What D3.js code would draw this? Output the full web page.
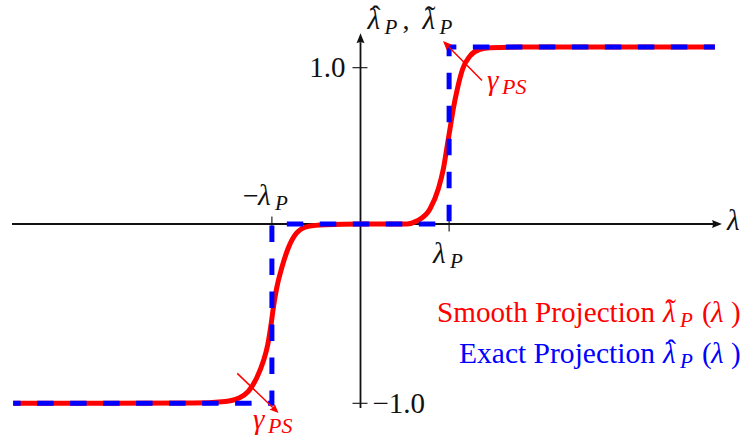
<!DOCTYPE html>
<html>
<head>
<meta charset="utf-8">
<script src="https://cdn.jsdelivr.net/npm/d3@7"></script>
<style>
  html, body { margin: 0; padding: 0; background: #fff; }
  svg { display: block; }
  svg text { font-family: "Liberation Serif", "DejaVu Serif", "Times New Roman", Times, serif; }
</style>
</head>
<body>
<svg id="chart" width="744" height="442"></svg>
<script>
const smoothLambda = [-3.92, -1.9, -1.529, -1.379, -1.266, -1.172, -1.097, -1.047, -1.010, -0.984, -0.946,
                      -0.889, -0.815, -0.720, -0.589, -0.401, 0, 0.525, 0.634, 0.784, 0.878,
                      0.935, 0.973, 1.010, 1.047, 1.093, 1.153, 1.236, 1.349, 1.462, 1.8, 4.0];
const smoothValue  = [-1.0, -0.999, -0.99, -0.972, -0.933, -0.859, -0.766, -0.673, -0.562, -0.468, -0.357,
                      -0.245, -0.134, -0.050, -0.013, -0.004, 0, 0, 0.019, 0.096, 0.224,
                      0.352, 0.480, 0.608, 0.736, 0.864, 0.992, 1.075, 1.118, 1.128, 1.132, 1.132];

// Exact (hard) projection: a step at +/- lambda_P
const exactLambda = [-3.92, -1, -1, 1, 1, 4.0];
const exactValue  = [-1.0, -1.0, 0, 0, 1.132, 1.132];

// Axis ticks
const lambdaTickValues = [-1, 1];
const valueTickValues = [1, -1];
const valueTickLabels = ["1.0", "\u22121.0"];

// Legend entries
const legendNames = ["Smooth Projection", "Exact Projection"];
const legendAccents = ["\u02DC", "\u02C6"];
const legendColors = ["#ff0000", "#0000ff"];

const svg = d3.select("#chart");
const RED = "#ff0000", BLUE = "#0000ff", INK = "#111";
const FS = 28, SUB = 21;

const x = d3.scaleLinear().domain([0, 1]).range([360.5, 449.1]);
const y = d3.scaleLinear().domain([-1, 0, 1]).range([403.3, 224, 67.7]);

// filled arrow head at (x2,y2) pointing along (x1,y1)->(x2,y2); returns base point
function arrowHead(g, x1, y1, x2, y2, len, half, color) {
  const a = Math.atan2(y2 - y1, x2 - x1);
  const c = Math.cos(a), s = Math.sin(a);
  const bx = x2 - len * c, by = y2 - len * s;
  g.append("path")
    .attr("d", `M${x2},${y2}L${bx - half * s},${by + half * c}Q${bx + 2 * c},${by + 2 * s} ${bx + half * s},${by - half * c}Z`)
    .attr("fill", color);
  return [bx + 1 * c, by + 1 * s];
}

function arrow(g, x1, y1, x2, y2, width, len, half, color) {
  const base = arrowHead(g, x1, y1, x2, y2, len, half, color);
  g.append("line")
    .attr("x1", x1).attr("y1", y1).attr("x2", base[0]).attr("y2", base[1])
    .attr("stroke", color).attr("stroke-width", width);
}

function glyph(g, x0, base, txt, opts = {}) {
  return g.append("text").attr("x", x0).attr("y", base)
    .attr("font-size", opts.size || FS)
    .attr("font-style", opts.italic ? "italic" : "normal")
    .attr("text-anchor", opts.anchor || "start")
    .attr("fill", opts.color || INK)
    .text(txt);
}

// lambda with optional accent (hat/tilde) and subscript P, all in one text element;
// x0 is the left edge of lambda
function lambdaP(g, x0, base, color, accent) {
  const t = g.append("text").attr("x", x0).attr("y", base)
    .attr("font-size", FS + 1).attr("fill", color);
  t.append("tspan").attr("font-style", "italic").text("\u03BB");
  t.append("tspan").attr("x", x0 + 17).attr("y", base + 5)
    .attr("font-style", "italic").attr("font-size", SUB).text("P");
  if (accent) {
    t.append("tspan").attr("x", x0 + 8).attr("y", base - 3)
      .attr("text-anchor", "middle").attr("font-size", 30).text(accent);
  }
  return t;
}

// ---- axes ----
const axes = svg.append("g");
arrow(axes, x(-3.933), y(0), x(4.08), y(0), 1.8, 10, 4, INK);
arrow(axes, x(0), y(-1.026), x(0), y(1.22), 1.8, 10, 4, INK);

axes.selectAll("line.xt").data(lambdaTickValues).enter().append("line")
  .attr("class", "xt")
  .attr("x1", d => x(d)).attr("x2", d => x(d))
  .attr("y1", y(0) - 7.5).attr("y2", y(0) + 7.5)
  .attr("stroke", INK).attr("stroke-width", 1.1);

axes.selectAll("line.yt").data(valueTickValues).enter().append("line")
  .attr("class", "yt")
  .attr("y1", d => y(d)).attr("y2", d => y(d))
  .attr("x1", x(0) - 8).attr("x2", x(0) + 7)
  .attr("stroke", INK).attr("stroke-width", 1.1);

// value tick labels: "1.0" left of the axis, "-1.0" right of it
axes.selectAll("text.yl").data(valueTickValues).enter().append("text")
  .attr("class", "yl")
  .attr("x", (d, i) => i === 0 ? x(0) - 15 : x(0) + 12)
  .attr("y", d => y(d) + 9.5)
  .attr("text-anchor", (d, i) => i === 0 ? "end" : "start")
  .attr("font-size", FS + 1).attr("fill", INK)
  .text((d, i) => valueTickLabels[i]);

// lambda tick labels
glyph(axes, x(-1) - 29, y(0) - 19, "\u2212");
lambdaP(axes, x(-1) - 14, y(0) - 19, INK, null);
lambdaP(axes, x(1) - 16, y(0) + 39, INK, null);

// axis titles
lambdaP(axes, x(0) + 7, 29, INK, "\u02C6");
glyph(axes, x(0) + 42, 29, ",");
lambdaP(axes, x(0) + 62, 29, INK, "\u02DC");
glyph(axes, x(4.08) + 5, y(0) + 6, "\u03BB", { italic: true, size: FS + 1 });

// ---- curves ----
const plot = svg.append("g");
const smoothPts = smoothLambda.map((l, i) => [l, smoothValue[i]]);
const exactPts = exactLambda.map((l, i) => [l, exactValue[i]]);

plot.append("path")
  .attr("d", d3.line().x(d => x(d[0])).y(d => y(d[1])).curve(d3.curveMonotoneX)(smoothPts))
  .attr("fill", "none").attr("stroke", RED).attr("stroke-width", 5);

plot.append("path")
  .attr("d", d3.line().x(d => x(d[0])).y(d => y(d[1]))(exactPts))
  .attr("fill", "none").attr("stroke", BLUE).attr("stroke-width", 5)
  .attr("stroke-dasharray", "16.5 16.5").attr("stroke-dashoffset", 9.1);

// ---- gamma_PS annotations ----
const notes = svg.append("g");
const annotations = [
  { from: [1.371, 0.918], to: [0.931, 1.171], label: [5, 9] },
  { from: [-1.391, -0.833], to: [-0.925, -1.054], label: [-25.5, 16.5] }
];
annotations.forEach(a => {
  const x1 = x(a.from[0]), y1 = y(a.from[1]), x2 = x(a.to[0]), y2 = y(a.to[1]);
  arrow(notes, x1, y1, x2, y2, 1.5, 9, 3.8, RED);
  const ax = a.label[0] < 0 ? x2 : x1, ay = a.label[0] < 0 ? y2 : y1;
  glyph(notes, ax + a.label[0], ay + a.label[1], "\u03B3", { italic: true, color: RED, size: FS + 1 });
  glyph(notes, ax + a.label[0] + 15, ay + a.label[1] + 4, "PS", { italic: true, color: RED, size: SUB + 1 });
});

// ---- legend ----
const legend = svg.append("g");
const legendBase = [321.7, 363];
const legendStart = [437, 459];
legendNames.forEach((name, i) => {
  const b = legendBase[i], col = legendColors[i];
  glyph(legend, legendStart[i], b, name, { color: col, size: FS + 1 })
    .attr("textLength", 655 - legendStart[i]).attr("lengthAdjust", "spacingAndGlyphs");
  lambdaP(legend, 663, b, col, legendAccents[i]);
  glyph(legend, 702, b, "(", { color: col, size: FS + 1 });
  glyph(legend, 711, b, "\u03BB", { italic: true, color: col, size: FS + 1 });
  glyph(legend, 731, b, ")", { color: col, size: FS + 1 });
});
</script>
</body>
</html>
